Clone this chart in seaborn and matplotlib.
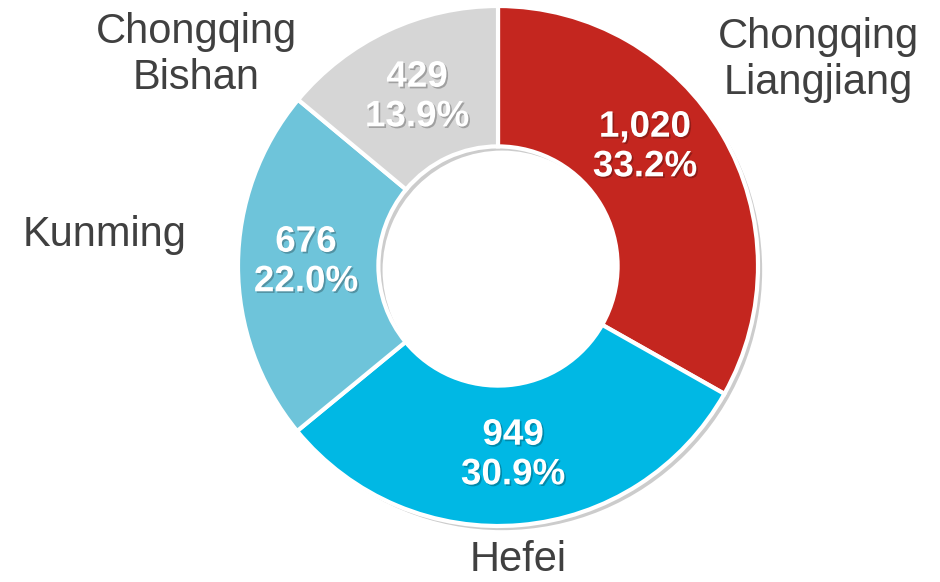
import matplotlib
matplotlib.use("Agg")
import matplotlib.pyplot as plt
import matplotlib.patheffects as pe
from matplotlib.patches import Wedge
import seaborn as sns

# Capacity by plant (units), clockwise from 12 o'clock
plants = ["Chongqing\nLiangjiang", "Hefei", "Kunming", "Chongqing\nBishan"]
capacity = [1020, 949, 676, 429]
shares = ["33.2%", "30.9%", "22.0%", "13.9%"]
colors = ["#C4261F", "#00B8E4", "#6EC4DA", "#D6D6D6"]

sns.set_theme(style="white")
plt.rcParams["font.family"] = ["Liberation Sans", "DejaVu Sans"]

W, H = 940, 582
R = 260.0
cx, cy = 498.0, 266.0
HOLE = 0.54

fig = plt.figure(figsize=(W / 100, H / 100), dpi=100)
ax = fig.add_axes([0, 0, 1, 1])

# soft drop shadow under the whole ring
ring = Wedge((0, 0), 1.0, 0, 360, width=HOLE, facecolor="white", edgecolor="none", zorder=0)
ring.set_path_effects([
    pe.SimplePatchShadow(offset=(3, -3), shadow_rgbFace="black", alpha=0.2),
    pe.Normal(),
])
ax.add_patch(ring)

wedges, _ = ax.pie(
    capacity,
    colors=colors,
    startangle=90,
    counterclock=False,
    radius=1.0,
    wedgeprops=dict(width=HOLE, edgecolor="white", linewidth=3, zorder=1),
)

ax.set_xlim(-cx / R, (W - cx) / R)
ax.set_ylim(-(H - cy) / R, cy / R)
ax.set_aspect("equal")
ax.axis("off")


def px(x, y):
    return (x - cx) / R, (cy - y) / R


shadow = [pe.SimplePatchShadow(offset=(1.2, -1.2), shadow_rgbFace="black", alpha=0.25), pe.Normal()]

# value and share inside each ring segment
inner_pos = [(645, 147), (513, 455), (306, 262), (417, 97)]
for (x, y), v, s in zip(inner_pos, capacity, shares):
    ax.text(*px(x, y), f"{v:,}\n{s}", ha="center", va="center",
            fontsize=26.5, fontweight="bold", color="white",
            linespacing=1.17, path_effects=shadow, zorder=3)

# plant names around the ring
outer_pos = [(818, 60), (518, 560), (105, 235), (196, 55)]
for (x, y), name in zip(outer_pos, plants):
    ax.text(*px(x, y), name, ha="center", va="center",
            fontsize=30, color="#404040", linespacing=1.2, zorder=3)

fig.savefig("out.png", dpi=100)
